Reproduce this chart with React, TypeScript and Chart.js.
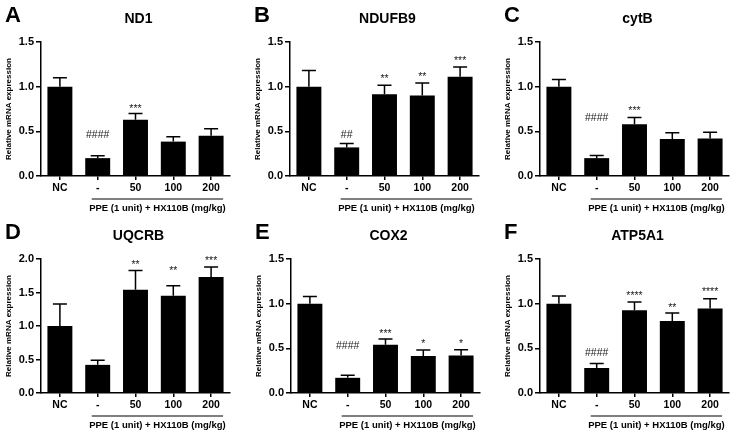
import React, { useEffect, useRef } from "react";
import { Chart, registerables } from "chart.js";

Chart.register(...registerables);

const FONT = "'Liberation Sans', Arial, Helvetica, sans-serif";

const categories = ["NC", "-", "50", "100", "200"];
const xGroupTitle = "PPE (1 unit) + HX110B (mg/kg)";
const yAxisTitle = "Relative mRNA expression";

const panelLetters = ["A", "B", "C", "D", "E", "F"];
const geneNames = ["ND1", "NDUFB9", "cytB", "UQCRB", "COX2", "ATP5A1"];
const yMaxima = [1.5, 1.5, 1.5, 2.0, 1.5, 1.5];

// mean values
const nd1Mean = [1.0, 0.2, 0.63, 0.385, 0.45];
const ndufb9Mean = [1.0, 0.32, 0.915, 0.9, 1.11];
const cytbMean = [1.0, 0.2, 0.58, 0.415, 0.42];
const uqcrbMean = [1.0, 0.42, 1.54, 1.45, 1.73];
const cox2Mean = [1.0, 0.17, 0.54, 0.415, 0.42];
const atp5a1Mean = [1.0, 0.28, 0.925, 0.805, 0.945];

// SEM (upper error bars)
const nd1Sem = [0.1, 0.027, 0.07, 0.055, 0.08];
const ndufb9Sem = [0.18, 0.045, 0.1, 0.14, 0.11];
const cytbSem = [0.08, 0.03, 0.075, 0.07, 0.07];
const uqcrbSem = [0.33, 0.07, 0.29, 0.15, 0.15];
const cox2Sem = [0.08, 0.03, 0.065, 0.065, 0.065];
const atp5a1Sem = [0.085, 0.05, 0.095, 0.09, 0.11];

// significance marks and the value level where each mark sits
const nd1Marks = ["", "####", "***", "", ""];
const nd1MarkLevel = [0, 0.47, 0.78, 0, 0];
const ndufb9Marks = ["", "##", "**", "**", "***"];
const ndufb9MarkLevel = [0, 0.465, 1.12, 1.14, 1.32];
const cytbMarks = ["", "####", "***", "", ""];
const cytbMarkLevel = [0, 0.66, 0.76, 0, 0];
const uqcrbMarks = ["", "", "**", "**", "***"];
const uqcrbMarkLevel = [0, 0, 1.95, 1.87, 2.01];
const cox2Marks = ["", "####", "***", "*", "*"];
const cox2MarkLevel = [0, 0.53, 0.7, 0.58, 0.585];
const atp5a1Marks = ["", "####", "****", "**", "****"];
const atp5a1MarkLevel = [0, 0.455, 1.12, 0.99, 1.165];

const means = [nd1Mean, ndufb9Mean, cytbMean, uqcrbMean, cox2Mean, atp5a1Mean];
const sems = [nd1Sem, ndufb9Sem, cytbSem, uqcrbSem, cox2Sem, atp5a1Sem];
const marks = [nd1Marks, ndufb9Marks, cytbMarks, uqcrbMarks, cox2Marks, atp5a1Marks];
const markLevels = [nd1MarkLevel, ndufb9MarkLevel, cytbMarkLevel, uqcrbMarkLevel, cox2MarkLevel, atp5a1MarkLevel];

const CANVAS_W = 250;
const CANVAS_H = 218;
const panelLeft = [0, 249, 499, 0, 250, 499];
const panelTop = [0, 0, 0, 217, 217, 217];

function Panel({ index }: { index: number }) {
  const ref = useRef<HTMLCanvasElement | null>(null);

  useEffect(() => {
    const canvas = ref.current;
    if (!canvas) return;
    const mean = means[index];
    const sem = sems[index];
    const mk = marks[index];
    const mkLevel = markLevels[index];

    const decor = {
      id: "decor" + index,
      afterDatasetsDraw(chart: any) {
        const ctx = chart.ctx as CanvasRenderingContext2D;
        const meta = chart.getDatasetMeta(0);
        const y = chart.scales.y;
        ctx.save();
        ctx.strokeStyle = "#000";
        ctx.lineWidth = 1.5;
        meta.data.forEach((bar: any, i: number) => {
          const x = bar.x;
          const yTop = y.getPixelForValue(mean[i]);
          const yErr = y.getPixelForValue(mean[i] + sem[i]);
          ctx.beginPath();
          ctx.moveTo(x, yTop);
          ctx.lineTo(x, yErr);
          ctx.moveTo(x - 7, yErr);
          ctx.lineTo(x + 7, yErr);
          ctx.stroke();
        });
        ctx.restore();
      },
      afterDraw(chart: any) {
        const ctx = chart.ctx as CanvasRenderingContext2D;
        const area = chart.chartArea;
        const xs = chart.scales.x;
        const y = chart.scales.y;
        ctx.save();
        // panel letter
        ctx.fillStyle = "#000";
        ctx.textAlign = "left";
        ctx.textBaseline = "alphabetic";
        ctx.font = `bold 22px ${FONT}`;
        ctx.fillText(panelLetters[index], 5, 22);
        // gene title
        ctx.textAlign = "center";
        ctx.font = `bold 14px ${FONT}`;
        ctx.fillText(geneNames[index], (area.left + area.right) / 2 + 3, 23);
        // y axis title
        ctx.save();
        ctx.translate(11, (area.top + area.bottom) / 2);
        ctx.rotate(-Math.PI / 2);
        ctx.font = `bold 8px ${FONT}`;
        ctx.textAlign = "center";
        ctx.textBaseline = "alphabetic";
        ctx.fillText(yAxisTitle, 0, 0);
        ctx.restore();
        // group underline
        const lx0 = xs.getPixelForValue(1) - 6;
        const lx1 = xs.getPixelForValue(4) + 12;
        ctx.strokeStyle = "#000";
        ctx.lineWidth = 1.2;
        ctx.beginPath();
        ctx.moveTo(lx0, area.bottom + 23);
        ctx.lineTo(lx1, area.bottom + 23);
        ctx.stroke();
        ctx.font = `bold 9.5px ${FONT}`;
        ctx.textAlign = "center";
        ctx.textBaseline = "middle";
        ctx.fillText(xGroupTitle, (lx0 + lx1) / 2, area.bottom + 32);
        // significance marks
        ctx.fillStyle = "#222";
        const ms = 10.5;
        ctx.font = `${ms}px ${FONT}`;
        ctx.textBaseline = "alphabetic";
        mk.forEach((m, i) => {
          if (!m) return;
          const cx = xs.getPixelForValue(i);
          const cy = y.getPixelForValue(mkLevel[i]);
          const shift = m.startsWith("*") ? 0.58 * ms : 0.36 * ms;
          ctx.fillText(m, cx, cy + shift);
        });
        ctx.restore();
      },
    };

    const chart = new Chart(canvas, {
      type: "bar",
      data: {
        labels: categories,
        datasets: [
          {
            data: mean,
            backgroundColor: "#000",
            borderWidth: 0,
            barPercentage: 0.66,
            categoryPercentage: 1,
          },
        ],
      },
      options: {
        responsive: false,
        animation: false,
        layout: { padding: { top: 42, right: 20, bottom: 0, left: 0 } },
        plugins: {
          legend: { display: false },
          title: { display: false },
          tooltip: { enabled: false },
        },
        scales: {
          x: {
            type: "category",
            offset: true,
            grid: {
              display: true,
              drawOnChartArea: false,
              drawTicks: true,
              tickLength: 4,
              offset: false,
              color: "#000",
              lineWidth: 1.5,
            },
            border: { display: true, color: "#000", width: 1.5 },
            ticks: {
              color: "#000",
              font: { family: FONT, size: 10.5, weight: "bold" },
              padding: 2,
              maxRotation: 0,
              autoSkip: false,
            },
            afterFit: (s: any) => {
              s.height = 42;
            },
          },
          y: {
            min: 0,
            max: yMaxima[index],
            grid: {
              display: true,
              drawOnChartArea: false,
              drawTicks: true,
              tickLength: 5,
              color: "#000",
              lineWidth: 1.5,
            },
            border: { display: true, color: "#000", width: 1.5 },
            ticks: {
              stepSize: 0.5,
              color: "#000",
              padding: 2,
              font: { family: FONT, size: 11, weight: "bold" },
              callback: (v: any) => Number(v).toFixed(1),
            },
            afterFit: (s: any) => {
              s.width = 41;
            },
          },
        },
      } as any,
      plugins: [decor],
    });
    return () => chart.destroy();
  }, [index]);

  return (
    <canvas
      ref={ref}
      width={CANVAS_W}
      height={CANVAS_H}
      style={{
        position: "absolute",
        left: panelLeft[index],
        top: panelTop[index],
        width: CANVAS_W,
        height: CANVAS_H,
        display: "block",
      }}
    />
  );
}

export default function App() {
  return (
    <div
      style={{
        position: "absolute",
        left: 0,
        top: 0,
        width: 751,
        height: 435,
        background: "#fff",
        overflow: "hidden",
      }}
    >
      {[0, 1, 2, 3, 4, 5].map((i) => (
        <Panel key={i} index={i} />
      ))}
    </div>
  );
}
